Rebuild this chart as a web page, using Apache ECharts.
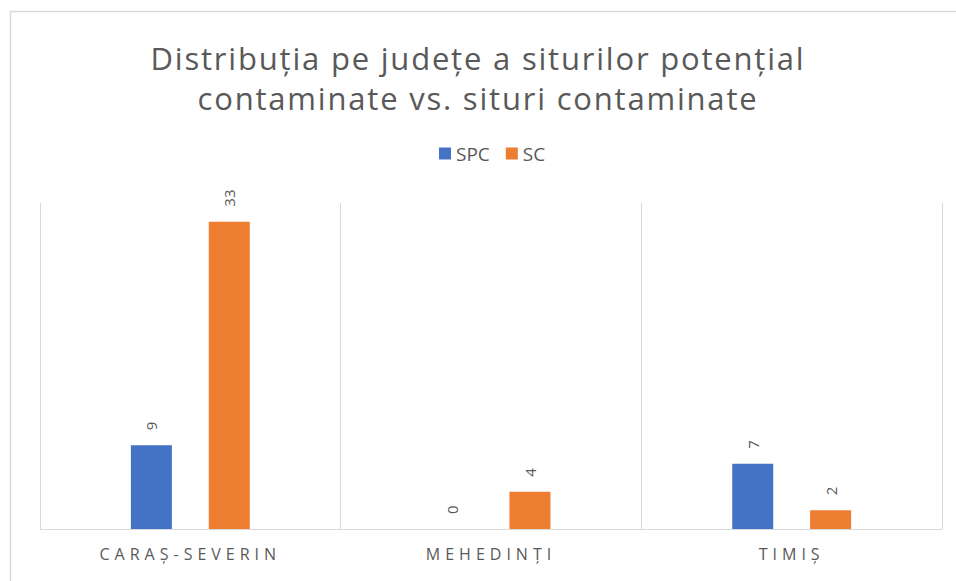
<!DOCTYPE html>
<html>
<head>
<meta charset="utf-8" />
<title>Distribuția pe județe</title>
<script src="https://cdn.jsdelivr.net/npm/echarts@6/dist/echarts.min.js"></script>
<style>
  html, body { margin: 0; padding: 0; background: #fff; }
  #siteChart { width: 956px; height: 581px; }
  /* spațiere litere ca în Excel: titlul (31px) și etichetele axei (16px) */
  #siteChart text[style*="31px"] { letter-spacing: 1.8px; }
  #siteChart text[style*="16px"] { letter-spacing: 5px; }
</style>
</head>
<body>
<div id="siteChart"></div>
<script>
// date
const categories = ["CARAȘ-SEVERIN", "MEHEDINȚI", "TIMIȘ"];
const spcValues = [9, 0, 7];
const scValues = [33, 4, 2];
const seriesNames = ["SPC", "SC"];

const textColor = "#595959";
const lineColor = "#d9d9d9";
const fontFamily = "'Open Sans', 'Noto Sans', sans-serif";

const barLabel = {
  show: true,
  position: "top",
  distance: 15,
  rotate: 90,
  align: "left",
  verticalAlign: "middle",
  color: textColor,
  fontSize: 15,
  fontFamily,
};

const getChartOption = () => {
  return {
    animation: false,
    color: ["#4472c4", "#ed7d31"],
    title: {
      text: "Distribuția pe județe a siturilor potențial\ncontaminate vs. situri contaminate",
      left: "center",
      top: 33,
      textStyle: {
        color: textColor,
        fontSize: 31,
        fontWeight: "normal",
        fontFamily,
        lineHeight: 40,
      },
    },
    legend: {
      top: 139,
      left: 434,
      itemWidth: 12,
      itemHeight: 12,
      itemGap: 16,
      icon: "rect",
      textStyle: {
        color: textColor,
        fontSize: 19,
        fontFamily,
      },
      data: seriesNames,
    },
    grid: {
      left: 40,
      right: 14,
      top: 203,
      bottom: 52,
      containLabel: false,
    },
    xAxis: {
      type: "category",
      data: categories,
      axisLine: { lineStyle: { color: lineColor, width: 1 } },
      axisTick: { show: false },
      splitLine: { show: true, lineStyle: { color: lineColor, width: 1 } },
      axisLabel: {
        color: textColor,
        fontSize: 16,
        fontFamily,
        margin: 17,
      },
    },
    yAxis: {
      type: "value",
      min: 0,
      max: 35,
      show: false,
      splitLine: { show: false },
    },
    graphic: [
      {
        // chenarul graficului (doar sus și stânga sunt vizibile)
        type: "rect",
        silent: true,
        shape: { x: 10.5, y: 11.5, width: 1200, height: 1200 },
        style: { fill: "none", stroke: lineColor, lineWidth: 1.5 },
      },
    ],
    series: [
      {
        name: seriesNames[0],
        type: "bar",
        barWidth: 41,
        barGap: "90%",
        data: spcValues,
        label: barLabel,
      },
      {
        name: seriesNames[1],
        type: "bar",
        barWidth: 41,
        barGap: "90%",
        data: scValues,
        label: barLabel,
      },
    ],
  };
};

const chart = echarts.init(document.getElementById("siteChart"), null, { renderer: "svg" });
chart.setOption(getChartOption());
window.addEventListener("resize", () => {
  chart.resize();
});
</script>
</body>
</html>
